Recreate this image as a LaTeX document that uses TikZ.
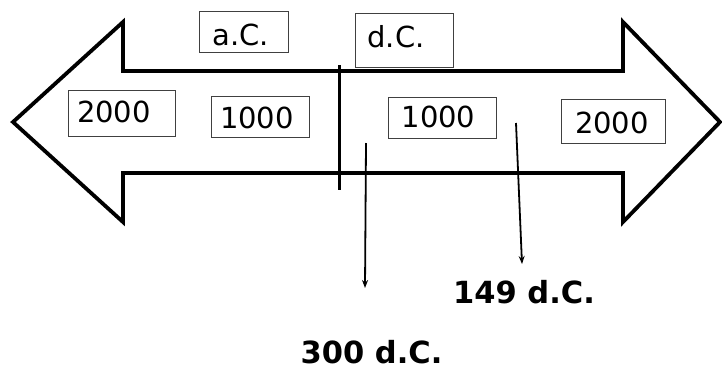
\documentclass[tikz,border=0pt]{standalone}
\usepackage{fontspec}
\setmainfont{DejaVu Sans}
\usetikzlibrary{arrows.meta}
\begin{document}
\begin{tikzpicture}[x=1pt,y=-1pt,
  yearbox/.style={draw=black!75,line width=0.8pt,inner sep=0pt},
  yeartext/.style={inner sep=0pt,anchor=base,font=\fontsize{29}{32}\selectfont},
  outline/.style={line width=3.8pt,line join=miter},
  pointer/.style={line width=1.8pt,-{Stealth[length=8pt,width=6pt]}},
  datelabel/.style={inner sep=0pt,anchor=base,font=\fontsize{30.5}{33}\selectfont\bfseries}]
\useasboundingbox[fill=white] (0,0) rectangle (722,370);
% double arrow outline
\draw[outline] (123,71) -- (623,71) -- (623,22) -- (720,122) -- (623,222) -- (623,173)
  -- (123,173) -- (123,222) -- (13,122) -- (123,22) -- cycle;
% divider
\draw[line width=3pt] (339,65) -- (339,190);
% boxes
\node[yearbox,minimum width=89pt,minimum height=41pt] (ac) at (243.5,31.5) {};
\node[yearbox,minimum width=98pt,minimum height=54pt] (dc) at (404,40) {};
\node[yearbox,minimum width=107pt,minimum height=46pt] (l2000) at (121.5,113) {};
\node[yearbox,minimum width=98pt,minimum height=41pt] (l1000) at (260,116.5) {};
\node[yearbox,minimum width=108pt,minimum height=41pt] (r1000) at (442,117.5) {};
\node[yearbox,minimum width=104pt,minimum height=44pt] (r2000) at (613,121) {};
% box texts
\node[yeartext] (tac) at (240.5,45) {a.C.};
\node[yeartext] (tdc) at (396,47) {d.C.};
\node[yeartext] (tl2000) at (114,122) {2000};
\node[yeartext] (tl1000) at (257,128) {1000};
\node[yeartext] (tr1000) at (438.5,127) {1000};
\node[yeartext] (tr2000) at (612,133) {2000};
% labels
\node[datelabel] (d149) at (524,303) {149 d.C.};
\node[datelabel] (d300) at (371.5,363) {300 d.C.};
% pointers
\coordinate (p300s) at (366,143);
\coordinate (p300e) at (365,288);
\coordinate (p149s) at (516,123);
\coordinate (p149e) at (522,264);
\draw[pointer] (p300s) -- (p300e);
\draw[pointer] (p149s) -- (p149e);
\end{tikzpicture}
\end{document}
